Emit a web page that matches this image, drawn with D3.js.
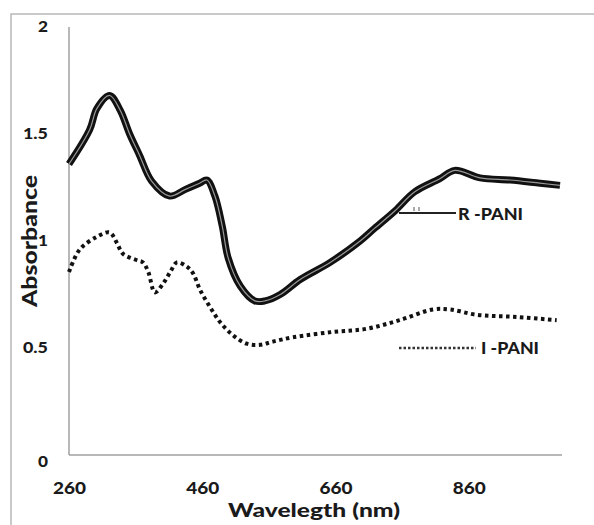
<!DOCTYPE html>
<html lang="en">
<head>
<meta charset="UTF-8">
<title>Absorbance vs wavelength</title>
<script src="https://d3js.org/d3.v7.min.js"></script>
<style>
    body { margin: 0; background: #fff; }
    svg text { font-family: Lato, "Open Sans", sans-serif; font-weight: 900; fill: #1a1a1a; }
</style>
</head>
<body>
<div id="chart"></div>
<script>
    // data
    const rWave = [260, 291, 302, 321, 337, 351, 366, 384, 411, 434, 456, 467, 479, 490, 499, 517, 539, 554, 577, 607, 652, 697, 719, 749, 779, 816, 839, 877, 922, 967, 997];
    const rAbs  = [1.36, 1.52, 1.62, 1.68, 1.61, 1.50, 1.40, 1.28, 1.21, 1.24, 1.27, 1.285, 1.21, 1.07, 0.92, 0.79, 0.72, 0.72, 0.75, 0.82, 0.90, 1.00, 1.06, 1.14, 1.23, 1.29, 1.33, 1.295, 1.285, 1.27, 1.26];

    const iWave = [260, 276, 302, 321, 332, 341, 362, 371, 379, 389, 401, 412, 422, 437, 446, 457, 472, 487, 506, 527, 547, 566, 596, 656, 707, 756, 806, 832, 872, 932, 992];
    const iAbs  = [0.855, 0.96, 1.02, 1.04, 0.99, 0.94, 0.91, 0.90, 0.855, 0.76, 0.80, 0.855, 0.90, 0.88, 0.85, 0.77, 0.69, 0.62, 0.56, 0.52, 0.515, 0.53, 0.55, 0.575, 0.59, 0.63, 0.68, 0.68, 0.655, 0.645, 0.63];

    const xTicks = [260, 460, 660, 860];
    const yTicks = [0, 0.5, 1, 1.5, 2];

    const width = 594, height = 525;

    const svg = d3.select("#chart").append("svg")
        .attr("width", width)
        .attr("height", height);

    // outer frame
    svg.append("rect")
        .attr("x", 11).attr("y", 14)
        .attr("width", 700).attr("height", 700)
        .attr("fill", "none")
        .attr("stroke", "#b8b8b8")
        .attr("stroke-width", 1.5);

    const x = d3.scaleLinear().domain([260, 1000]).range([69, 562]);
    const y = d3.scaleLinear().domain([0, 2]).range([455, 27]);

    // axis lines
    svg.append("line")
        .attr("x1", x(260)).attr("x2", x(260))
        .attr("y1", y(2)).attr("y2", y(0))
        .attr("stroke", "#a0a0a0").attr("stroke-width", 1.5);
    svg.append("line")
        .attr("x1", x(260)).attr("x2", x(1000))
        .attr("y1", y(0)).attr("y2", y(0))
        .attr("stroke", "#a0a0a0").attr("stroke-width", 1.5);

    const yAxis = svg.append("g")
        .attr("transform", "translate(69,0)")
        .call(d3.axisLeft(y).tickValues(yTicks).tickSize(0).tickPadding(21)
            .tickFormat(d => d));
    yAxis.select(".domain").remove();
    yAxis.selectAll("text")
        .style("font-size", "15px")
        .attr("textLength", d => String(d).length > 1 ? 25 : 10)
        .attr("lengthAdjust", "spacingAndGlyphs");
    yAxis.selectAll(".tick").filter(d => d === 0).select("text").attr("dy", "0.75em");

    const xAxis = svg.append("g")
        .attr("transform", "translate(0,455)")
        .call(d3.axisBottom(x).tickValues(xTicks).tickSize(0).tickPadding(28));
    xAxis.select(".domain").remove();
    xAxis.selectAll("text")
        .style("font-size", "16px")
        .attr("textLength", 33)
        .attr("lengthAdjust", "spacingAndGlyphs");

    // axis titles
    svg.append("text")
        .attr("x", 314).attr("y", 517)
        .attr("text-anchor", "middle")
        .attr("textLength", 172)
        .attr("lengthAdjust", "spacingAndGlyphs")
        .style("font-size", "19px")
        .text("Wavelegth (nm)");

    svg.append("text")
        .attr("transform", "translate(37,241) rotate(-90)")
        .attr("text-anchor", "middle")
        .attr("textLength", 132)
        .attr("lengthAdjust", "spacingAndGlyphs")
        .style("font-size", "20px")
        .text("Absorbance");

    const line = d3.line()
        .x(d => x(d[0]))
        .y(d => y(d[1]))
        .curve(d3.curveCatmullRom.alpha(0.5));

    const rData = rWave.map((w, i) => [w, rAbs[i]]);
    const iData = iWave.map((w, i) => [w, iAbs[i]]);

    // R-PANI: double line (black with light core)
    svg.append("path").datum(rData)
        .attr("d", line)
        .attr("fill", "none")
        .attr("stroke", "#111")
        .attr("stroke-width", 7)
        .attr("stroke-linejoin", "round");
    svg.append("path").datum(rData)
        .attr("d", line)
        .attr("fill", "none")
        .attr("stroke", "#9a9a9a")
        .attr("stroke-width", 1.2);

    // I-PANI: dotted
    svg.append("path").datum(iData)
        .attr("d", line)
        .attr("fill", "none")
        .attr("stroke", "#111")
        .attr("stroke-width", 4)
        .attr("stroke-dasharray", "3.5,3.5");

    // callout labels
    svg.append("line")
        .attr("x1", 399).attr("x2", 456)
        .attr("y1", 213).attr("y2", 213)
        .attr("stroke", "#222").attr("stroke-width", 2.2);
    svg.append("path")
        .attr("d", "M414,207V211M419,207V211")
        .attr("stroke", "#555").attr("stroke-width", 1);
    svg.append("text")
        .attr("x", 458).attr("y", 220)
        .attr("textLength", 65)
        .attr("lengthAdjust", "spacingAndGlyphs")
        .style("font-size", "16px")
        .text("R -PANI");

    svg.append("line")
        .attr("x1", 399).attr("x2", 476)
        .attr("y1", 348).attr("y2", 348)
        .attr("stroke", "#333").attr("stroke-width", 2.5)
        .attr("stroke-dasharray", "2.5,2");
    svg.append("text")
        .attr("x", 481).attr("y", 354)
        .attr("textLength", 58)
        .attr("lengthAdjust", "spacingAndGlyphs")
        .style("font-size", "16px")
        .text("I -PANI");
</script>
</body>
</html>
